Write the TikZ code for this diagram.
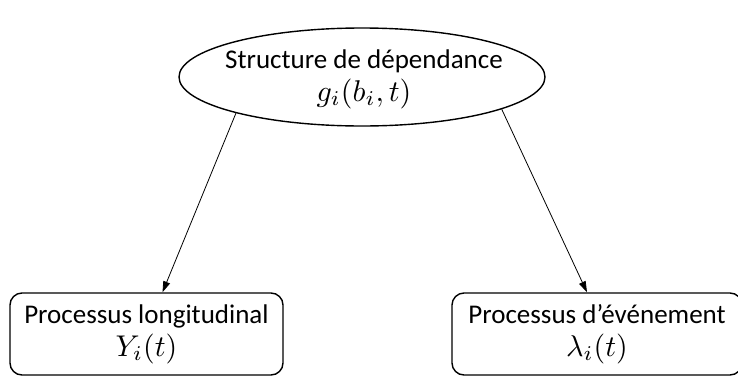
\documentclass[tikz,border=0pt]{standalone}
\usepackage{graphicx}
\usepackage{fontspec}
\setmainfont{Carlito}
\usetikzlibrary{shapes.geometric,arrows.meta}
\newcommand{\bigmath}[1]{\scalebox{3.0}{\fontsize{10}{12}\selectfont$#1$}}
\tikzset{
  lbl/.style={font=\fontsize{27}{33}\selectfont, align=center, inner sep=0pt, text=black},
  oval/.style={ellipse, draw, line width=1.4pt, inner sep=0pt, minimum width=366pt, minimum height=98pt},
  procbox/.style={lbl, draw, line width=1.4pt, rounded corners=12pt, minimum height=82pt},
  link/.style={line width=0.8pt, -{Triangle[length=11pt,width=7pt]}}
}
\begin{document}
\begin{tikzpicture}[x=1pt,y=-1pt]
  \useasboundingbox (0,0) rectangle (738,375);
  \clip (0,0) rectangle (738,375);
  % dependence structure: outline and its two-line label
  \node[oval] (dep) at (362,77) {};
  \node[lbl] (deptext) at (364,79) {Structure de dépendance\\\bigmath{g_i(b_i,t)}};
  % the two processes
  \node[procbox, minimum width=273pt] (lon) at (146.5,334) {Processus longitudinal\\\bigmath{Y_i(t)}};
  \node[procbox, minimum width=290pt] (evt) at (597,334) {Processus d’événement\\\bigmath{\lambda_i(t)}};
  % links
  \draw[link] (dep.196) -- ([xshift=16pt]lon.north);
  \draw[link] (dep.347) -- ([xshift=-10pt]evt.north);
\end{tikzpicture}
\end{document}
